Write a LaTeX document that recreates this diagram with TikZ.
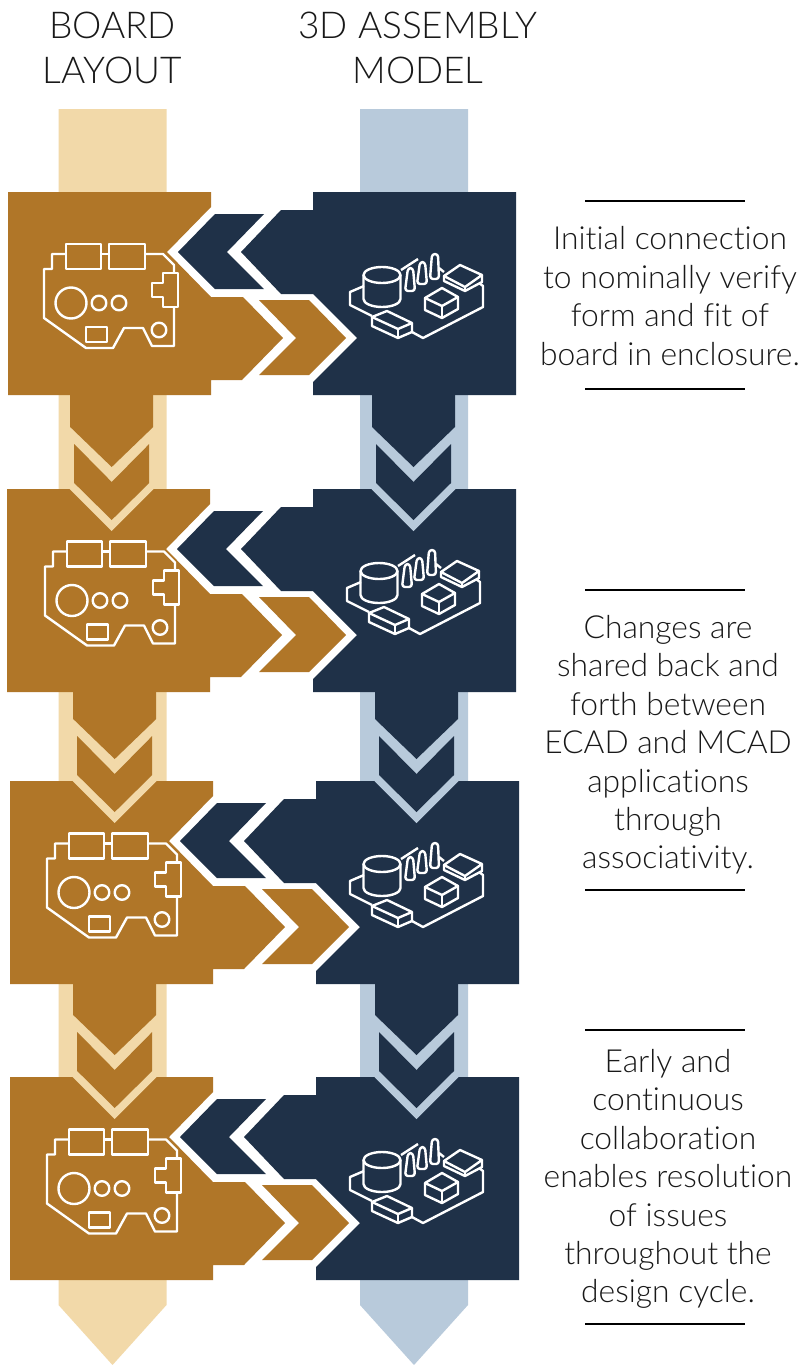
\documentclass[tikz,border=0pt]{standalone}
\usepackage{fontspec}
\setmainfont{Lato Light}[Ligatures=NoCommon]
\definecolor{brownblock}{HTML}{B07628}
\definecolor{navyblock}{HTML}{1F3148}
\definecolor{sandband}{HTML}{F2D9A9}
\definecolor{steelband}{HTML}{B8CADB}
\tikzset{
	iconline/.style={draw=white,line width=2.4pt,line join=round},
	% block, notch and outgoing arrows of one board layout row
	boardrow/.pic={
		\fill[brownblock](0,0)--(203,0)--(203,15)--(159,60)--(203,105)--(235,105)--(275,146)--(234,188)--(203,188)--(203,203)--(0,203)--cycle;
		\fill[navyblock](207,22)--(256,22)--(219,60)--(256,97)--(207,97)--(170,60)--cycle;
	},
	modelrow/.pic={
		\fill[navyblock](0,0)--(203,0)--(203,203)--(0,203)--(0,190)--(44,146)--(0,102)--(-32,102)--(-72,60)--(-32,18)--(0,18)--cycle;
		\fill[brownblock](-54,108)--(-4,108)--(33,146)--(-4,183)--(-54,183)--(-17,146)--cycle;
	},
	% down arrow between two rows, centred on the band
	downarrow/.pic={
		\fill[pic actions](-41.5,-96)--(41.5,-96)--(41.5,-62)--(0,-22)--(-41.5,-62)--cycle;
		\fill[pic actions](-37.5,-45)--(0,-7)--(37.5,-45)--(37.5,-6)--(0,31)--(-37.5,-6)--cycle;
	},
	downnotch/.pic={
		\fill[pic actions](-42,0)--(0,42)--(42,0)--cycle;
	},
	pcbicon/.pic={
		\draw[iconline](58,62)--(44,62)--(44,77)--(36,77)--(36,126)--(78,156)--(105,156)--(116,136)--(135,136)--(144,154)--(166,154)--(166,115);
		\draw[iconline](137,62)--(155,62)--(166,73)--(166,81);
		\draw[iconline](93,62)--(101,62);
		\draw[iconline](58,52)rectangle(93,77);
		\draw[iconline](101,52)rectangle(137,77);
		\draw[iconline](155,81)--(170,81)--(170,115)--(155,115)--(155,105)--(144,105)--(144,91)--(155,91)--cycle;
		\draw[iconline](63,111)circle(15.5);
		\draw[iconline](91,111)circle(7.3);
		\draw[iconline](111,111)circle(7.3);
		\draw[iconline](151,138)circle(7.3);
		\draw[iconline](78,135)rectangle(99,150);
	},
	modelicon/.pic={
		\draw[iconline](51,94)--(37,100)--(37,113)--(59,124);
		\draw[iconline](99,140)--(110,146)--(170,115)--(170,94)--(166,91);
		\draw[iconline](88,78)--(105,67);
		\draw[iconline](126,76)--(131,80);
		\draw[iconline](69,83)circle[x radius=18.5,y radius=8];
		\draw[iconline](50.5,83)--(50.5,107)arc[start angle=180,end angle=0,x radius=18.5,y radius=8]--(87.5,83);
		\draw[iconline,rounded corners=3](92,99)--(95,76)--(100,76)--(102,99)--cycle;
		\draw[iconline,rounded corners=3](104,92)--(107,70)--(112,70)--(114,92)--cycle;
		\draw[iconline,rounded corners=3](117,87)--(119,62)--(125,62)--(126,87)--cycle;
		\draw[iconline](131,84)--(147,73)--(169,83)--(152,95)--cycle;
		\draw[iconline](131,84)--(131,89)--(152,99)--(169,90)--(169,83);
		\draw[iconline](152,95)--(152,99);
		\draw[iconline](112,106)--(129,96)--(145,105)--(129,114)--cycle;
		\draw[iconline](112,106)--(112,118)--(129,126)--(145,117)--(145,105);
		\draw[iconline](129,114)--(129,126);
		\draw[iconline](59,125)--(74,119)--(99,131)--(85,137)--cycle;
		\draw[iconline](59,125)--(59,134)--(85,146)--(99,140)--(99,131);
		\draw[iconline](85,137)--(85,146);
	},
}
\begin{document}
\begin{tikzpicture}
	[x=1pt,y=-1pt,
	heading/.style={align=center,inner sep=0pt,text=black!90,font=\fontsize{37}{45}\selectfont},
	caption/.style={align=center,inner sep=0pt,text=black!90,font=\fontsize{31.8}{38.4}\selectfont},
	rule/.style={draw=black,line width=1.6pt}]
	\useasboundingbox(0,0)rectangle(802,1365);
	\fill[white](0,0)rectangle(802,1365);
	% bands
	\fill[sandband](58.5,109)--(166.5,109)--(166.5,1305)--(112.5,1365)--(58.5,1305)--cycle;
	\fill[steelband](360,109)--(468,109)--(468,1305)--(414,1365)--(360,1305)--cycle;
	% headings
	\node[heading,name=boardhead]at(112.5,48){BOARD\\LAYOUT};
	\node[heading,name=modelhead]at(418,48){3D ASSEMBLY\\MODEL};
	% rows
	\pic at(8,192){boardrow};
	\pic at(313,192){modelrow};
	\pic at(8,192){pcbicon};
	\pic at(313,192){modelicon};
	\pic at(7,489){boardrow};
	\pic at(313,489){modelrow};
	\pic[sandband] at(111.7,489){downnotch};
	\pic[steelband] at(413.5,489){downnotch};
	\pic[brownblock] at(111.7,489){downarrow};
	\pic[navyblock] at(413.5,489){downarrow};
	\pic at(9,489.5){pcbicon};
	\pic at(310,488){modelicon};
	\pic at(10,781){boardrow};
	\pic at(316,781){modelrow};
	\pic[sandband] at(114.7,781){downnotch};
	\pic[steelband] at(416.5,781){downnotch};
	\pic[brownblock] at(114.7,781){downarrow};
	\pic[navyblock] at(416.5,781){downarrow};
	\pic at(11,781.5){pcbicon};
	\pic at(313,781){modelicon};
	\pic at(10,1077){boardrow};
	\pic at(316,1077){modelrow};
	\pic[sandband] at(114.7,1077){downnotch};
	\pic[steelband] at(416.5,1077){downnotch};
	\pic[brownblock] at(114.7,1077){downarrow};
	\pic[navyblock] at(416.5,1077){downarrow};
	\pic at(11,1077.5){pcbicon};
	\pic at(313,1077){modelicon};
	% notes
	\draw[rule](585,201)--(745,201);
	\node[caption,name=firstnote]at(670,296){Initial connection\\to nominally verify\\form and fit of\\board in enclosure.};
	\draw[rule](585,389)--(745,389);
	\draw[rule](585,590)--(745,590);
	\node[caption,name=secondnote]at(668,745){Changes are\\shared back and\\forth between\\ECAD and MCAD\\applications\\through\\associativity.};
	\draw[rule](585,890)--(745,890);
	\draw[rule](585,1030)--(745,1030);
	\node[caption,name=thirdnote]at(668,1179){Early and\\continuous\\collaboration\\enables resolution\\of issues\\throughout the\\design cycle.};
	\draw[rule](585,1324)--(745,1324);
\end{tikzpicture}
\end{document}
